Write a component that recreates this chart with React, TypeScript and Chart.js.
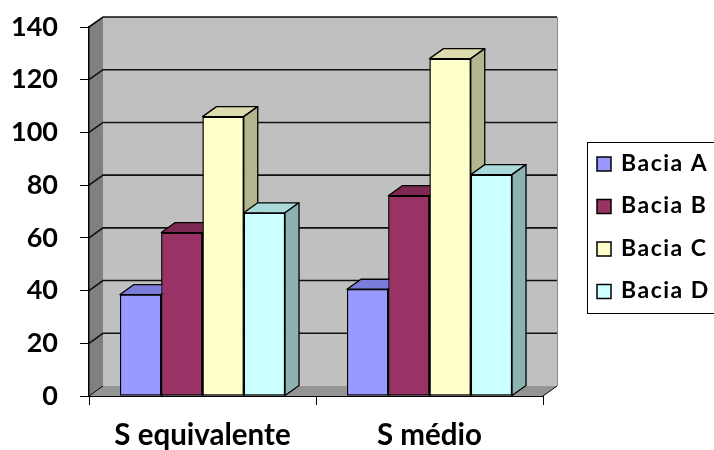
import React, { useEffect, useRef } from 'react';
import { Chart, registerables } from 'chart.js';

Chart.register(...registerables);

const categories = ['S equivalente', 'S médio'];
const seriesNames = ['Bacia A', 'Bacia B', 'Bacia C', 'Bacia D'];
const baciaA = [38.5, 40.5];
const baciaB = [62, 76];
const baciaC = [106, 128];
const baciaD = [69.5, 84];
const seriesValues = [baciaA, baciaB, baciaC, baciaD];
const yMin = 0;
const yMax = 140;
const yStep = 20;

const frontColors = ['#9999FF', '#993366', '#FFFFCC', '#CCFFFF'];
const topColors = ['#7C7CDA', '#7D2851', '#DCDCAE', '#A9D9D9'];
const sideColors = ['#6A6AB5', '#6A2242', '#B4B48E', '#8CB2B2'];

const DX = 14;
const DY = 10;
const FONT = 'Lato, "Open Sans", sans-serif';

const walls3d = {
  id: 'walls3d',
  beforeDraw(chart: any) {
    const { ctx, chartArea } = chart;
    const L = chartArea.left, R = chartArea.right, B = chartArea.bottom, T = chartArea.top;
    const ys = chart.scales.y;
    ctx.save();
    // back wall
    ctx.fillStyle = '#C0C0C0';
    ctx.fillRect(L + DX, T - DY, R - L, B - T);
    ctx.strokeStyle = '#8a8a8a';
    ctx.lineWidth = 1;
    ctx.beginPath();
    ctx.moveTo(R + DX + 0.5, T - DY);
    ctx.lineTo(R + DX + 0.5, B - DY);
    ctx.stroke();
    // side wall
    ctx.fillStyle = '#808080';
    ctx.beginPath();
    ctx.moveTo(L, T);
    ctx.lineTo(L + DX, T - DY);
    ctx.lineTo(L + DX, B - DY);
    ctx.lineTo(L, B);
    ctx.closePath();
    ctx.fill();
    // floor
    ctx.fillStyle = '#949494';
    ctx.beginPath();
    ctx.moveTo(L, B);
    ctx.lineTo(L + DX, B - DY);
    ctx.lineTo(R + DX, B - DY);
    ctx.lineTo(R, B);
    ctx.closePath();
    ctx.fill();
    ctx.strokeStyle = '#000';
    ctx.lineWidth = 1;
    ctx.beginPath();
    ctx.moveTo(R, B);
    ctx.lineTo(R + DX, B - DY);
    ctx.moveTo(L, B);
    ctx.lineTo(L + DX, B - DY);
    ctx.stroke();
    // gridlines
    ctx.strokeStyle = '#111';
    ctx.lineWidth = 1.6;
    for (let v = yMin + yStep; v <= yMax; v += yStep) {
      const y = ys.getPixelForValue(v);
      ctx.beginPath();
      ctx.moveTo(L, y);
      ctx.lineTo(L + DX, y - DY);
      ctx.lineTo(R + DX, y - DY);
      ctx.stroke();
    }
    ctx.restore();
  },
  afterDatasetsDraw(chart: any) {
    const { ctx } = chart;
    const n = chart.data.datasets.length;
    for (let i = 0; i < n; i++) {
      const meta = chart.getDatasetMeta(i);
      meta.data.forEach((bar: any) => {
        // re-draw the library's front face so that later series cover earlier ones
        bar.draw(ctx, chart.chartArea);
        ctx.save();
        ctx.strokeStyle = '#000';
        ctx.lineWidth = 1.3;
        ctx.lineJoin = 'round';
        const w = bar.width;
        const x0 = bar.x - w / 2;
        const x1 = bar.x + w / 2;
        const y = bar.y;
        const base = bar.base;
        ctx.fillStyle = topColors[i];
        ctx.beginPath();
        ctx.moveTo(x0, y);
        ctx.lineTo(x0 + DX, y - DY);
        ctx.lineTo(x1 + DX, y - DY);
        ctx.lineTo(x1, y);
        ctx.closePath();
        ctx.fill();
        ctx.stroke();
        ctx.fillStyle = sideColors[i];
        ctx.beginPath();
        ctx.moveTo(x1, y);
        ctx.lineTo(x1 + DX, y - DY);
        ctx.lineTo(x1 + DX, base - DY);
        ctx.lineTo(x1, base);
        ctx.closePath();
        ctx.fill();
        ctx.stroke();
        ctx.restore();
      });
    }
  },
  afterDraw(chart: any) {
    const { ctx } = chart;
    ctx.save();
    const bx = 587, by = 142, bw = 140, bh = 171;
    ctx.fillStyle = '#fff';
    ctx.fillRect(bx, by, bw, bh);
    ctx.strokeStyle = '#000';
    ctx.lineWidth = 1;
    ctx.strokeRect(bx + 0.5, by + 0.5, bw, bh);
    const centers = [163.5, 206, 248.5, 291];
    ctx.font = `bold 23px ${FONT}`;
    (ctx as any).letterSpacing = '1.5px';
    ctx.textBaseline = 'middle';
    ctx.textAlign = 'left';
    chart.data.datasets.forEach((ds: any, k: number) => {
      const cy = centers[k];
      ctx.fillStyle = frontColors[k];
      ctx.fillRect(597, cy - 6.5, 14, 14);
      ctx.lineWidth = 1.5;
      ctx.strokeStyle = '#000';
      ctx.strokeRect(597, cy - 6.5, 14, 14);
      ctx.fillStyle = '#000';
      ctx.fillText(ds.label, 621, cy);
    });
    ctx.restore();
  },
};

export default function App() {
  const ref = useRef<HTMLCanvasElement | null>(null);
  useEffect(() => {
    if (!ref.current) return;
    const chart = new Chart(ref.current, {
      type: 'bar',
      data: {
        labels: categories,
        datasets: seriesNames.map((name, i) => ({
          label: name,
          data: seriesValues[i],
          backgroundColor: frontColors[i],
          borderColor: '#000',
          borderWidth: 1.3,
          borderSkipped: false,
          categoryPercentage: 0.727,
          barPercentage: 1,
        })),
      },
      options: {
        animation: false,
        responsive: false,
        devicePixelRatio: 1,
        layout: { padding: { top: 27, right: 171, left: 0, bottom: 0 } },
        plugins: { legend: { display: false }, tooltip: { enabled: false } },
        scales: {
          x: {
            grid: { drawOnChartArea: false, tickLength: 9, tickColor: '#000', offset: true },
            border: { color: '#000', width: 1 },
            ticks: { font: { family: FONT, weight: 'bold', size: 29.5 }, color: '#000', padding: 13 },
            afterFit: (s: any) => { s.height = 54; },
          },
          y: {
            min: yMin,
            max: yMax,
            ticks: { stepSize: yStep, font: { family: FONT, weight: 'bold', size: 27 }, color: '#000', padding: 22 },
            grid: { drawOnChartArea: false, tickLength: 9, tickColor: '#000' },
            border: { color: '#000', width: 1.5 },
            afterFit: (s: any) => {
              s.width = 89;
              s.paddingTop = 10;
              s.paddingBottom = 10;
            },
          },
        },
      },
      plugins: [walls3d],
    } as any);
    return () => chart.destroy();
  }, []);
  return (
    <div style={{ position: 'fixed', left: 0, top: 0, width: 714, height: 450, background: '#fff', overflow: 'hidden' }}>
      <canvas ref={ref} width={714} height={450} style={{ display: 'block' }} />
    </div>
  );
}
